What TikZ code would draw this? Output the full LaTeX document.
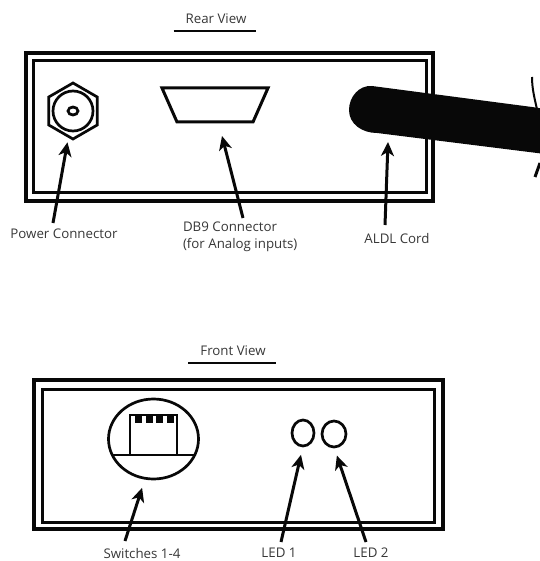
\documentclass[tikz,border=0pt]{standalone}
\usepackage{fontspec}
\setmainfont{Open Sans}
\usepackage{xcolor}
\definecolor{ink}{RGB}{8,8,8}
\definecolor{caption}{RGB}{55,55,55}
\usetikzlibrary{arrows.meta,positioning,calc,shapes.geometric}
\tikzset{
  x=1pt, y=-1pt,
  panelouter/.style={draw=ink,line width=3.4pt,inner sep=0pt,outer sep=0pt},
  panelinner/.style={draw=ink,line width=3pt,inner sep=0pt,outer sep=0pt},
  part/.style={draw=ink,line width=2.7pt,inner sep=0pt,outer sep=0pt},
  callout/.style={font=\fontsize{13.3}{17}\selectfont,text=caption,inner sep=0pt,outer sep=0pt},
  pointer/.style={draw=ink,line width=3pt,-{Stealth[length=14pt,width=13pt,inset=4pt]}},
  titlerule/.style={draw=ink,line width=2.6pt},
}

\begin{document}
\begin{tikzpicture}
\useasboundingbox (0,0) rectangle (539,561);
% rear view
\node[callout] (reartitle) at (216,19) {Rear View};
\draw[titlerule] ([xshift=-12pt,yshift=-7pt]reartitle.south west) -- ([xshift=10pt,yshift=-7pt]reartitle.south east);
\node[panelouter,minimum width=407,minimum height=148] (rearouter) at (229.5,127) {};
\node[panelinner,minimum width=393,minimum height=132] (rearinner) at (229.5,127) {};
\node[part,regular polygon,regular polygon sides=6,shape border rotate=30,minimum size=56] (powerhex) at (73,111) {};
\node[part,circle,minimum size=40] (powerring) at (73,111) {};
\node[part,ellipse,minimum width=10,minimum height=8] (powerpin) at (73,111) {};
\draw[part,line width=3pt] (162,88) -- (268,88) -- (253,122) -- (177,122) -- cycle;
\fill[ink] (372,86) -- (532,107) -- (545,109) -- (545,154) -- (377,133)
  .. controls (362,133) and (349,124) .. (349,110)
  .. controls (349,97) and (359,85) .. (372,86) -- cycle;
\draw[ink,line width=2pt] (532,77) .. controls (532,90) and (535,100) .. (539,118);
\draw[ink,line width=3pt] (535,177) -- (540,163);
\coordinate (cordtip) at (388,142);
\coordinate (dbtip) at (222,136);
\node[callout] (powerlbl) at (64,234) {Power Connector};
\node[callout,anchor=west,align=left] (dblbl) at (183,236.5) {DB9 Connector\\(for Analog inputs)};
\node[callout] (cordlbl) at (397,239) {ALDL Cord};
\coordinate (powertail) at (53,223);
\coordinate (dbtail) at (243,218);
\coordinate (cordtail) at (385,225);
\draw[pointer,shorten >=6pt] (powertail) -- (powerhex.-100);
\draw[pointer] (dbtail) -- (dbtip);
\draw[pointer] (cordtail) -- (cordtip);
% front view
\node[callout] (fronttitle) at (233,351) {Front View};
\draw[titlerule] ([xshift=-12pt,yshift=-7pt]fronttitle.south west) -- ([xshift=10pt,yshift=-7pt]fronttitle.south east);
\node[panelouter,minimum width=409,minimum height=149] (frontouter) at (238.5,454.5) {};
\node[panelinner,minimum width=392,minimum height=133] (frontinner) at (238,455.5) {};
\node[part,ellipse,minimum width=90,minimum height=80] (switchring) at (153.5,439) {};
\draw[part] (113,455) -- (195,455);
\draw[part] (130,455) -- (130,415) -- (177,415) -- (177,455);
\foreach \tooth in {135,146,156,167}
  \fill[ink] (\tooth,415) rectangle (\tooth+7,423);
\node[part,ellipse,minimum width=22,minimum height=26] (ledone) at (303,433) {};
\node[part,ellipse,minimum width=24,minimum height=26] (ledtwo) at (334,434) {};
\node[callout] (switchlbl) at (142,554) {Switches 1-4};
\node[callout] (ledonelbl) at (279,553) {LED 1};
\node[callout] (ledtwolbl) at (371,553) {LED 2};
\coordinate (switchtail) at (125,541);
\coordinate (ledonetail) at (281,542);
\coordinate (ledtwotail) at (366,542);
\draw[pointer,shorten >=10pt] (switchtail) -- (switchring.-102);
\draw[pointer,shorten >=9pt] (ledonetail) -- (ledone.south);
\draw[pointer,shorten >=9pt] (ledtwotail) -- (ledtwo.south);
\end{tikzpicture}
\end{document}
